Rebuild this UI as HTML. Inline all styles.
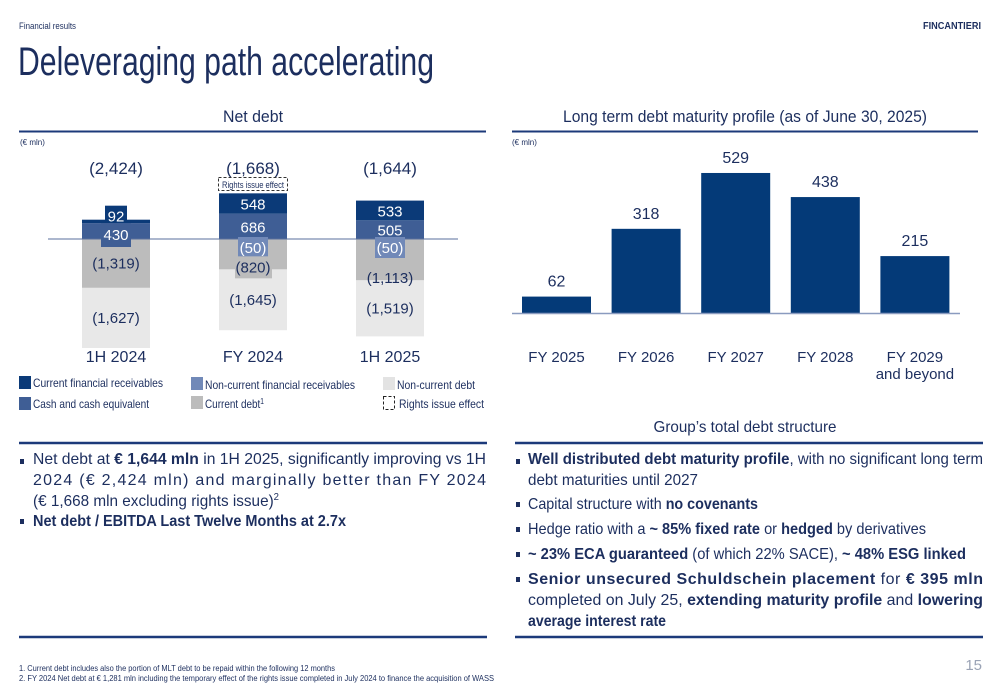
<!DOCTYPE html>
<html><head><meta charset="utf-8"><style>
html,body{margin:0;padding:0;background:#fff;width:1000px;height:685px;overflow:hidden}
svg{display:block}
text{font-family:"Liberation Sans Narrow","Liberation Sans",sans-serif;fill:#1c2e5e}
</style></head><body>
<svg id="page" width="1000" height="685" viewBox="0 0 1000 685">
<text x="19" y="29" font-size="9" textLength="57" lengthAdjust="spacingAndGlyphs">Financial results</text>
<text x="923" y="29" font-size="10" font-weight="bold" textLength="58" lengthAdjust="spacingAndGlyphs">FINCANTIERI</text>
<text x="18" y="75" font-size="40" textLength="416" lengthAdjust="spacingAndGlyphs">Deleveraging path accelerating</text>

<text x="253" y="122" font-size="17" text-anchor="middle" textLength="60" lengthAdjust="spacingAndGlyphs">Net debt</text>
<text x="745" y="122" font-size="17" text-anchor="middle" textLength="364" lengthAdjust="spacingAndGlyphs">Long term debt maturity profile (as of June 30, 2025)</text>
<line x1="19" y1="131.5" x2="486" y2="131.5" stroke="#1c3a7a" stroke-width="2"/>
<line x1="512" y1="131.5" x2="978" y2="131.5" stroke="#1c3a7a" stroke-width="2"/>
<text x="20" y="145" font-size="8">(€ mln)</text>
<text x="512" y="145" font-size="8">(€ mln)</text>

<g id="left-chart"></g>
<g id="right-chart"></g>

<g>
<rect x="19" y="376" width="12" height="13" fill="#0b3a78"/>
<text x="33" y="387" font-size="12" textLength="130" lengthAdjust="spacingAndGlyphs">Current financial receivables</text>
<rect x="19" y="397" width="12" height="13" fill="#3f5e95"/>
<text x="33" y="408" font-size="12" textLength="116" lengthAdjust="spacingAndGlyphs">Cash and cash equivalent</text>
<rect x="191" y="377" width="12" height="13" fill="#7189b8"/>
<text x="205" y="389" font-size="12" textLength="150" lengthAdjust="spacingAndGlyphs">Non-current financial receivables</text>
<rect x="191" y="396" width="12" height="13" fill="#bcbcbc"/>
<text x="205" y="408" font-size="12" textLength="59" lengthAdjust="spacingAndGlyphs">Current debt<tspan font-size="8" dy="-4">1</tspan></text>
<rect x="383" y="377" width="12" height="13" fill="#e3e3e3"/>
<text x="397" y="389" font-size="12" textLength="78" lengthAdjust="spacingAndGlyphs">Non-current debt</text>
<rect x="383.5" y="396.5" width="11" height="13" fill="none" stroke="#222" stroke-dasharray="3,2"/>
<text x="399" y="408" font-size="12" textLength="85" lengthAdjust="spacingAndGlyphs">Rights issue effect</text>
</g>

<text x="745" y="432" font-size="16" text-anchor="middle" textLength="183" lengthAdjust="spacingAndGlyphs">Group’s total debt structure</text>
<line x1="19" y1="443" x2="487" y2="443" stroke="#1c3a7a" stroke-width="2.5"/>
<line x1="515" y1="443" x2="983" y2="443" stroke="#1c3a7a" stroke-width="2.5"/>
<line x1="19" y1="637" x2="487" y2="637" stroke="#1c3a7a" stroke-width="2.5"/>
<line x1="515" y1="637" x2="983" y2="637" stroke="#1c3a7a" stroke-width="2.5"/>

<g font-size="16">
<rect x="20" y="459" width="4" height="5" fill="#1c2e5e"/>
<text x="33" y="464" textLength="453" lengthAdjust="spacingAndGlyphs">Net debt at <tspan font-weight="bold">€ 1,644 mln</tspan> in 1H 2025, significantly improving vs 1H</text>
<text x="33" y="485" textLength="453" lengthAdjust="spacing">2024 (€ 2,424 mln) and marginally better than FY 2024</text>
<text x="33" y="506" textLength="246" lengthAdjust="spacingAndGlyphs">(€ 1,668 mln excluding rights issue)<tspan font-size="10" dy="-6">2</tspan></text>
<rect x="20" y="519" width="4" height="5" fill="#1c2e5e"/>
<text x="33" y="526" font-weight="bold" textLength="313" lengthAdjust="spacingAndGlyphs">Net debt / EBITDA Last Twelve Months at 2.7x</text>
</g>
<g font-size="16">
<rect x="516" y="459" width="4" height="5" fill="#1c2e5e"/>
<text x="528" y="464" textLength="455" lengthAdjust="spacingAndGlyphs"><tspan font-weight="bold">Well distributed debt maturity profile</tspan>, with no significant long term</text>
<text x="528" y="485" textLength="170" lengthAdjust="spacingAndGlyphs">debt maturities until 2027</text>
<rect x="516" y="502" width="4" height="5" fill="#1c2e5e"/>
<text x="528" y="509" textLength="230" lengthAdjust="spacingAndGlyphs">Capital structure with <tspan font-weight="bold">no covenants</tspan></text>
<rect x="516" y="527" width="4" height="5" fill="#1c2e5e"/>
<text x="528" y="534" textLength="398" lengthAdjust="spacingAndGlyphs">Hedge ratio with a <tspan font-weight="bold">~ 85% fixed rate</tspan> or <tspan font-weight="bold">hedged</tspan> by derivatives</text>
<rect x="516" y="552" width="4" height="5" fill="#1c2e5e"/>
<text x="528" y="559" textLength="438" lengthAdjust="spacingAndGlyphs"><tspan font-weight="bold">~ 23% ECA guaranteed</tspan> (of which 22% SACE), <tspan font-weight="bold">~ 48% ESG linked</tspan></text>
<rect x="516" y="577" width="4" height="5" fill="#1c2e5e"/>
<text x="528" y="584" textLength="455" lengthAdjust="spacing"><tspan font-weight="bold">Senior unsecured Schuldschein placement</tspan> for <tspan font-weight="bold">€ 395 mln</tspan></text>
<text x="528" y="605" textLength="455" lengthAdjust="spacingAndGlyphs">completed on July 25, <tspan font-weight="bold">extending maturity profile</tspan> and <tspan font-weight="bold">lowering</tspan></text>
<text x="528" y="626" font-weight="bold" textLength="138" lengthAdjust="spacingAndGlyphs">average interest rate</text>
</g>

<text x="19" y="671" font-size="8" textLength="316" lengthAdjust="spacingAndGlyphs">1.  Current debt includes also the portion of MLT debt to be repaid within the following 12 months</text>
<text x="19" y="681" font-size="8" textLength="475" lengthAdjust="spacingAndGlyphs">2.  FY 2024 Net debt at € 1,281 mln including the temporary effect of the rights issue completed in July 2024 to finance the acquisition of WASS</text>
<text x="982" y="670" font-size="15" style="fill:#9aa3b5" text-anchor="end">15</text>
</svg>
<script>
// Net debt chart data
const periods = ["1H 2024", "FY 2024", "1H 2025"];
const totals = ["(2,424)", "(1,668)", "(1,644)"];
const currentFinRec = [92, 548, 533];
const cashEq = [430, 686, 505];
const nonCurrentFinRec = [0, 50, 50];
const currentDebt = [1319, 820, 1113];
const nonCurrentDebt = [1627, 1645, 1519];
// Maturity chart data
const years = ["FY 2025", "FY 2026", "FY 2027", "FY 2028", "FY 2029"];
const maturities = [62, 318, 529, 438, 215];

const NS = "http://www.w3.org/2000/svg";
function mk(tag, attrs, parent, txt) {
  const e = document.createElementNS(NS, tag);
  for (const k in attrs) e.setAttribute(k, attrs[k]);
  if (txt !== undefined) e.textContent = txt;
  parent.appendChild(e);
  return e;
}
const fmt = v => v.toLocaleString("en-US");
const neg = v => "(" + fmt(v) + ")";

// left chart
const L = document.getElementById("left-chart");
const zeroY = 239, k = 0.037, bw = 68;
const xC = i => 116 + i * 137;
const yL = v => zeroY - v * k;
periods.forEach((p, i) => {
  const x0 = xC(i) - bw / 2;
  let r = mk("rect", {x: x0, y: yL(-currentDebt[i]), width: bw, height: nonCurrentDebt[i] * k, fill: "#e8e8e8"}, L);
  
  
  r = mk("rect", {x: x0, y: zeroY, width: bw, height: currentDebt[i] * k, fill: "#bcbcbc"}, L);
  
  
  r = mk("rect", {x: x0, y: yL(cashEq[i]), width: bw, height: cashEq[i] * k, fill: "#3f5e95"}, L);
  
  
  r = mk("rect", {x: x0, y: yL(cashEq[i] + currentFinRec[i]), width: bw, height: currentFinRec[i] * k, fill: "#0b3a78"}, L);
  
  
});
let zl = mk("line", {x1: 48, y1: zeroY, x2: 458, y2: zeroY, stroke: "#5a6f9c", "stroke-width": 1}, L);


const tl = (s, w) => ({textLength: w, lengthAdjust: "spacingAndGlyphs"});
periods.forEach((p, i) => {
  const c = xC(i);
  const topY = yL(cashEq[i] + currentFinRec[i]);
  const ncdMid = yL(-currentDebt[i]) + nonCurrentDebt[i] * k / 2;
  let t = mk("text", {x: c, y: 174, "font-size": 17, "text-anchor": "middle"}, L, totals[i]);
  
  
  t = mk("text", {x: c, y: 362, "font-size": 16, "text-anchor": "middle"}, L, p);
  
  
  t = mk("text", {x: c, y: ncdMid + 5, "font-size": 15, "text-anchor": "middle"}, L, neg(nonCurrentDebt[i]));
  
  
  if (currentFinRec[i] < 200) {
    let b = mk("rect", {x: c - 11, y: topY - 14, width: 22, height: 21, fill: "#0b3a78"}, L);
    
    
    t = mk("text", {x: c, y: topY + 2, "font-size": 15, "text-anchor": "middle", style: "fill:#fff"}, L, fmt(currentFinRec[i]));
    
    
    b = mk("rect", {x: c - 15, y: zeroY - 16, width: 30, height: 24, fill: "#3f5e95"}, L);
    
    
    t = mk("text", {x: c, y: zeroY + 1, "font-size": 15, "text-anchor": "middle", style: "fill:#fff"}, L, fmt(cashEq[i]));
    
    
    t = mk("text", {x: c, y: zeroY + currentDebt[i] * k / 2 + 5, "font-size": 15, "text-anchor": "middle"}, L, neg(currentDebt[i]));
    
    
  } else {
    t = mk("text", {x: c, y: topY + currentFinRec[i] * k / 2 + 6, "font-size": 15, "text-anchor": "middle", style: "fill:#fff"}, L, fmt(currentFinRec[i]));
    
    
    t = mk("text", {x: c, y: yL(cashEq[i] / 2) + 6, "font-size": 15, "text-anchor": "middle", style: "fill:#fff"}, L, fmt(cashEq[i]));
    
    
    let b = mk("rect", {x: c - 15, y: zeroY - 2, width: 30, height: 21, fill: "#7189b8"}, L);
    
    
    t = mk("text", {x: c, y: zeroY + 14, "font-size": 15, "text-anchor": "middle", style: "fill:#fff"}, L, neg(nonCurrentFinRec[i]));
    
    
    const cdBottom = zeroY + currentDebt[i] * k;
    if (currentDebt[i] < 1000) {
      b = mk("rect", {x: c - 18, y: cdBottom - 13, width: 37, height: 22, fill: "#bcbcbc"}, L);
      
      
    }
    t = mk("text", {x: c, y: cdBottom + 3, "font-size": 15, "text-anchor": "middle"}, L, neg(currentDebt[i]));
    
    
  }
});
let rb = mk("rect", {x: xC(1) - 34.5, y: 177.5, width: 69, height: 13, fill: "none", stroke: "#333", "stroke-dasharray": "3,2"}, L);


let rt = mk("text", {x: xC(1), y: 188, "font-size": 9, "text-anchor": "middle", textLength: 62, lengthAdjust: "spacingAndGlyphs"}, L, "Rights issue effect");



// right chart
const R = document.getElementById("right-chart");
const baseY = 313, kr = 0.2647, rw = 69;
const xR = i => 556.5 + i * 89.6;
const yR = v => baseY - v * kr;
maturities.forEach((v, i) => {
  const b = mk("rect", {x: xR(i) - rw / 2, y: yR(v), width: rw, height: v * kr, fill: "#043a78"}, R);
  
  
  let t = mk("text", {x: xR(i), y: yR(v) - 10, "font-size": 16, "text-anchor": "middle"}, R, fmt(v));
  
  
  t = mk("text", {x: xR(i), y: 362, "font-size": 15, "text-anchor": "middle"}, R, years[i]);
  
  
});
let t2 = mk("text", {x: xR(4), y: 379, "font-size": 15, "text-anchor": "middle"}, R, "and beyond");


let bl = mk("line", {x1: 512, y1: baseY + 0.5, x2: 960, y2: baseY + 0.5, stroke: "#8a9bbf", "stroke-width": 1.5}, R);


</script>
</body></html>
